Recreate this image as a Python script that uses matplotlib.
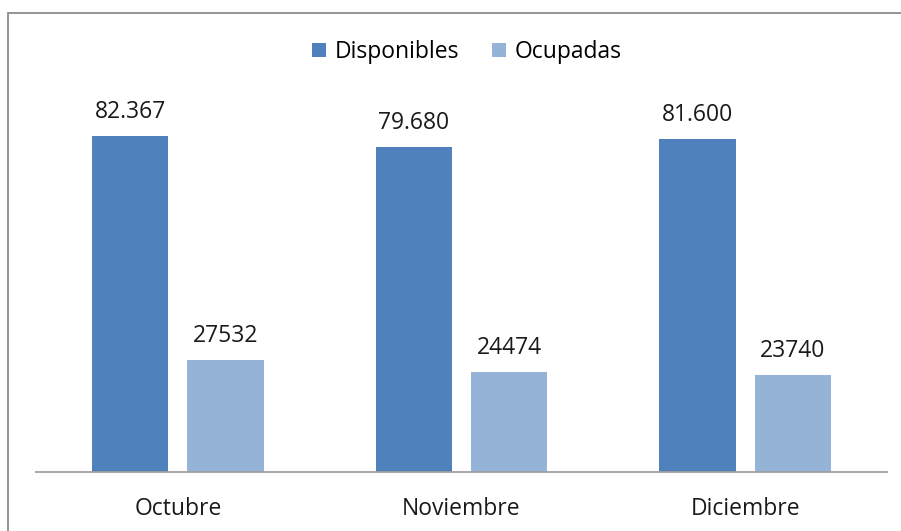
import matplotlib.pyplot as plt
import numpy as np
from matplotlib.patches import Rectangle

plt.rcParams['font.family'] = ['Open Sans', 'DejaVu Sans']

# data
months = ['Octubre', 'Noviembre', 'Diciembre']
disponibles = [82367, 79680, 81600]
ocupadas = [27532, 24474, 23740]
disp_labels = ['82.367', '79.680', '81.600']
ocup_labels = ['27532', '24474', '23740']

W, H = 901, 531
fig = plt.figure(figsize=(W / 100, H / 100), dpi=100)

# outer border (cropped screenshot: only left and top visible)
fig.add_artist(Rectangle((8 / W, -0.1), 1.2, (H - 13) / H + 0.1,
                         transform=fig.transFigure, fill=False,
                         edgecolor='#8c8c8c', linewidth=1.3))

ax = fig.add_axes([36 / W, (H - 472) / H, (887 - 36) / W, 367 / H])

x = np.arange(len(months))
bw = 0.268
off = 0.168
b1 = ax.bar(x - off, disponibles, bw, color='#4F81BD', label='Disponibles')
b2 = ax.bar(x + off, ocupadas, bw, color='#95B3D7', label='Ocupadas')

for bars, labels in [(b1, disp_labels), (b2, ocup_labels)]:
    for rect, lab in zip(bars, labels):
        ax.annotate(lab, (rect.get_x() + rect.get_width() / 2, rect.get_height()),
                    xytext=(0, 13), textcoords='offset points',
                    ha='center', va='baseline', fontsize=16.5, color='#1a1a1a')

ax.set_xlim(-0.5, 2.5)
ax.set_ylim(0, 90000)
ax.set_xticks(x)
ax.set_xticklabels(months, fontsize=16.5, color='#1a1a1a')
ax.tick_params(axis='x', length=0, pad=18)
ax.set_yticks([])
for s in ['top', 'right', 'left']:
    ax.spines[s].set_visible(False)
ax.spines['bottom'].set_color('#a0a0a0')
ax.spines['bottom'].set_linewidth(1.3)

fig.legend(handles=[b1, b2], loc='center', bbox_to_anchor=(467 / W, 1 - 52 / H),
           ncol=2, frameon=False, fontsize=16.5, handlelength=0.6, handleheight=0.6,
           handletextpad=0.4, columnspacing=1.42)

plt.savefig('out.png', dpi=100)
